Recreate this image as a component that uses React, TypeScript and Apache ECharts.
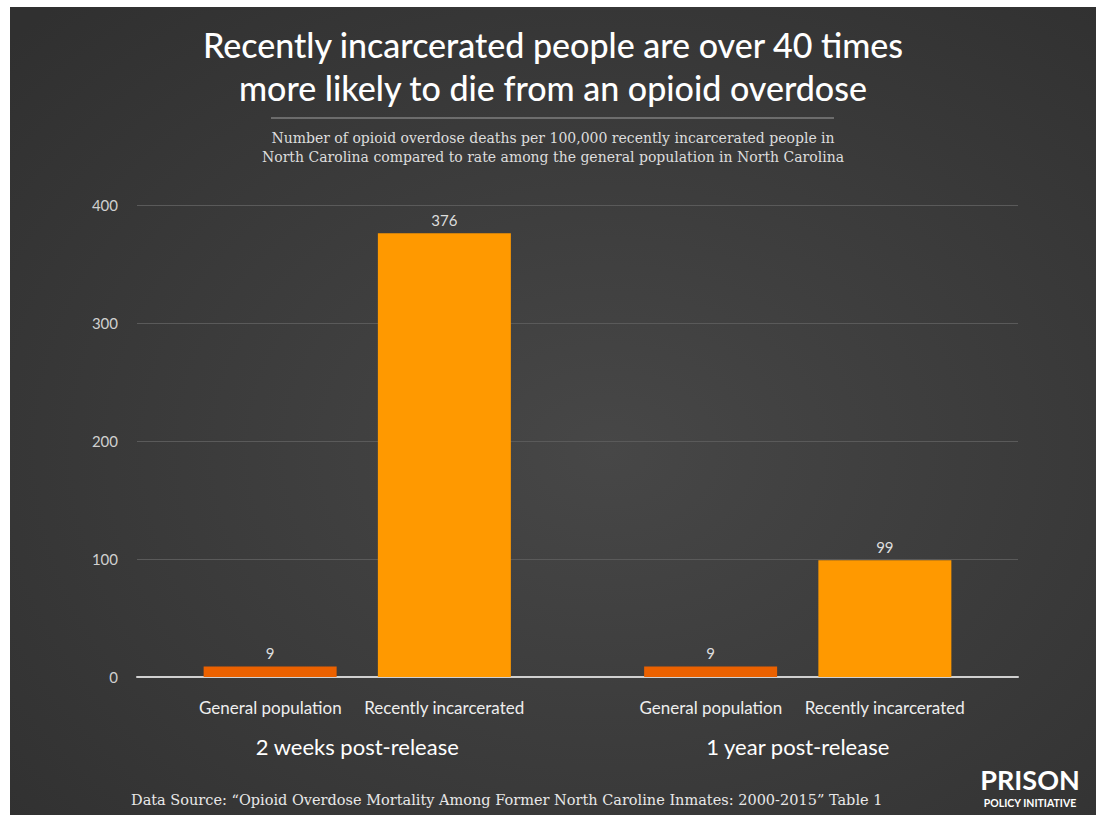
import React, { useEffect, useRef } from "react";
import * as echarts from "echarts";

const groups = ["2 weeks post-release", "1 year post-release"];
const subCategories = ["General population", "Recently incarcerated"];
const generalPopulation = [9, 9];
const recentlyIncarcerated = [376, 99];
const yMin = 0;
const yMax = 400;
const yInterval = 100;

const titleText = "Recently incarcerated people are over 40 times\nmore likely to die from an opioid overdose";
const subtitleText =
  "Number of opioid overdose deaths per 100,000 recently incarcerated people in\nNorth Carolina compared to rate among the general population in North Carolina";
const sourceText =
  "Data Source: \u201cOpioid Overdose Mortality Among Former North Caroline Inmates: 2000-2015\u201d Table 1";

const SANS = "Lato, 'Open Sans', sans-serif";
const SERIF = "'DejaVu Serif', 'Liberation Serif', serif";

export default function App() {
  const ref = useRef<HTMLDivElement>(null);
  useEffect(() => {
    if (!ref.current) return;
    const chart = echarts.init(ref.current, null, { renderer: "svg" });
    const option: any = {
      animation: false,
      backgroundColor: "#ffffff",
      graphic: [
        {
          type: "rect",
          z: -10,
          shape: { x: 10, y: 7, width: 1086, height: 808 },
          style: {
            fill: {
              type: "radial",
              x: 0.55,
              y: 0.55,
              r: 0.75,
              colorStops: [
                { offset: 0, color: "#474747" },
                { offset: 1, color: "#303030" },
              ],
            },
          },
        },
        {
          type: "text",
          x: 553,
          y: 66,
          style: {
            text: titleText,
            fill: "#ffffff",
            font: `500 34px ${SANS}`,
            align: "center",
            verticalAlign: "middle",
            lineHeight: 43,
          },
        },
        {
          type: "line",
          shape: { x1: 271, y1: 118, x2: 834, y2: 118 },
          style: { stroke: "#a0a0a0", lineWidth: 1 },
        },
        {
          type: "text",
          x: 553,
          y: 147,
          style: {
            text: subtitleText,
            fill: "#dddddd",
            font: `14px ${SERIF}`,
            align: "center",
            verticalAlign: "middle",
            lineHeight: 19,
          },
        },
        {
          type: "text",
          x: 131,
          y: 800,
          style: {
            text: sourceText,
            fill: "#e8e8e8",
            font: `14.5px ${SERIF}`,
            align: "left",
            verticalAlign: "middle",
          },
        },
        {
          type: "text",
          x: 1030,
          y: 779,
          style: {
            text: "PRISON",
            fill: "#ffffff",
            font: `bold 27px ${SANS}`,
            align: "center",
            verticalAlign: "middle",
          },
        },
        {
          type: "text",
          x: 1030,
          y: 803,
          style: {
            text: "POLICY INITIATIVE",
            fill: "#ffffff",
            font: `bold 10.5px ${SANS}`,
            align: "center",
            verticalAlign: "middle",
          },
        },
      ],
      grid: { left: 137, right: 79, top: 205, bottom: 138 },
      xAxis: {
        type: "category",
        data: groups,
        axisLine: { show: true, lineStyle: { color: "#d0d0d0", width: 2 } },
        axisTick: { show: false },
        axisLabel: {
          margin: 20,
          interval: 0,
          formatter: (v: string) =>
            `{a|${subCategories[0]}}{b|${subCategories[1]}}\n{g|${v}}`,
          rich: {
            a: { width: 174, align: "center", color: "#eeeeee", fontSize: 17, fontFamily: SANS, lineHeight: 20 },
            b: { width: 174, align: "center", color: "#eeeeee", fontSize: 17, fontFamily: SANS, lineHeight: 20 },
            g: { color: "#ffffff", fontSize: 22, fontFamily: SANS, lineHeight: 58, align: "center" },
          },
        },
      },
      yAxis: {
        type: "value",
        min: yMin,
        max: yMax,
        interval: yInterval,
        axisLine: { show: false },
        axisTick: { show: false },
        axisLabel: { color: "#d0d0d0", fontSize: 15, fontFamily: SANS, margin: 19 },
        splitLine: { lineStyle: { color: "#5a5a5a", width: 1 } },
      },
      series: [
        {
          name: subCategories[0],
          type: "bar",
          data: generalPopulation,
          barWidth: 133,
          barGap: "31%",
          itemStyle: { color: "#EB6100" },
          label: { show: true, position: "top", distance: 6, color: "#dddddd", fontSize: 15, fontFamily: SANS },
        },
        {
          name: subCategories[1],
          type: "bar",
          data: recentlyIncarcerated,
          barWidth: 133,
          barGap: "31%",
          itemStyle: { color: "#FF9900" },
          label: { show: true, position: "top", distance: 6, color: "#dddddd", fontSize: 15, fontFamily: SANS },
        },
      ],
    };
    chart.setOption(option);
    return () => chart.dispose();
  }, []);
  return (
    <div
      ref={ref}
      style={{ position: "fixed", left: 0, top: 0, width: 1097, height: 815 }}
    />
  );
}
